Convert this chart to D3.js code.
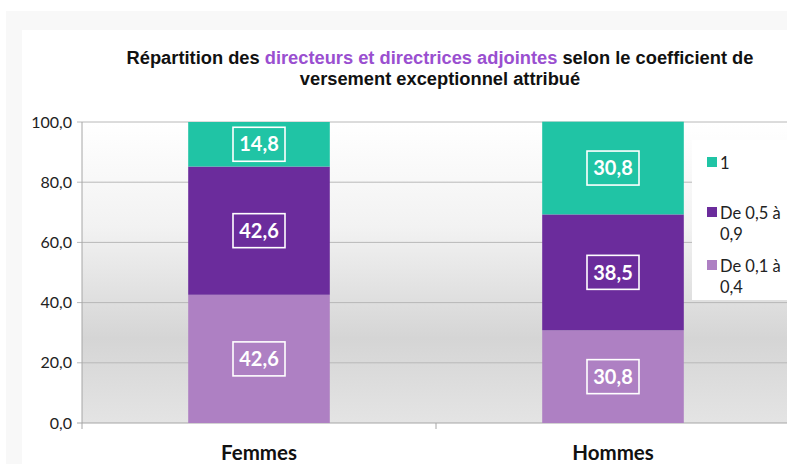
<!DOCTYPE html>
<html>
<head>
<meta charset="utf-8">
<script src="https://cdn.jsdelivr.net/npm/d3@7"></script>
<style>
  body { margin: 0; background: #fff; }
  svg { display: block; }
</style>
</head>
<body>
<div id="chart"></div>
<script>
// data
var categories = ["Femmes", "Hommes"];
var seriesNames = ["De 0,1 à 0,4", "De 0,5 à 0,9", "1"];
var low = [42.6, 30.8];
var mid = [42.6, 38.5];
var high = [14.8, 30.8];
var yTicks = [0, 20, 40, 60, 80, 100];
var legendLabels = [["1"], ["De 0,5 à", "0,9"], ["De 0,1 à", "0,4"]];

var colors = ["#ae80c3", "#6b2c9c", "#20c4a5"];
var fmt = function (v) { return d3.format(".1f")(v).replace(".", ","); };

var W = 787, H = 464;
var margin = { top: 122, right: -3, bottom: 41, left: 82 };
var width = W - margin.left - margin.right;
var height = H - margin.top - margin.bottom;

var svg = d3.select("#chart").append("svg")
    .attr("width", W)
    .attr("height", H);

// faint outer frame
svg.append("rect").attr("x", 6).attr("y", 11).attr("width", W - 6).attr("height", H - 11).attr("fill", "#f8f8f8");
svg.append("rect").attr("x", 22).attr("y", 30).attr("width", W - 22).attr("height", H - 30).attr("fill", "#fff");

var defs = svg.append("defs");
var grad = defs.append("linearGradient").attr("id", "bg")
    .attr("x1", 0).attr("y1", 0).attr("x2", 0).attr("y2", 1);
grad.append("stop").attr("offset", "0%").attr("stop-color", "#ffffff");
grad.append("stop").attr("offset", "35%").attr("stop-color", "#f2f2f2");
grad.append("stop").attr("offset", "72%").attr("stop-color", "#d5d5d5");
grad.append("stop").attr("offset", "100%").attr("stop-color", "#e4e4e4");

// title
var title = svg.append("text")
    .attr("x", 440)
    .attr("text-anchor", "middle")
    .style("font-family", "'Liberation Sans', Arial, sans-serif")
    .style("font-weight", "bold")
    .style("font-size", "18.3px")
    .attr("fill", "#111");
var t1 = title.append("tspan").attr("x", 440).attr("y", 64);
t1.append("tspan").text("Répartition des ");
t1.append("tspan").attr("fill", "#9a4fd0").text("directeurs et directrices adjointes");
t1.append("tspan").text(" selon le coefficient de");
title.append("tspan").attr("x", 440).attr("y", 85).text("versement exceptionnel attribué");

var g = svg.append("g")
    .attr("transform", "translate(" + margin.left + "," + margin.top + ")");

var x = d3.scaleBand()
    .domain(categories)
    .range([0, width])
    .padding(0);

var y = d3.scaleLinear()
    .domain([0, 100])
    .range([height, 0]);

g.append("rect")
    .attr("width", width)
    .attr("height", height)
    .attr("fill", "url(#bg)");

// grid
g.selectAll(".grid")
    .data(yTicks)
    .enter().append("line")
    .attr("x1", -5)
    .attr("x2", width)
    .attr("y1", function (d) { return y(d); })
    .attr("y2", function (d) { return y(d); })
    .attr("stroke", function (d) { return d === 0 ? "#a6a6a6" : "#b8b8b8"; })
    .attr("stroke-width", 1);

// y axis
g.append("line")
    .attr("x1", 0).attr("x2", 0)
    .attr("y1", 0).attr("y2", height)
    .attr("stroke", "#a6a6a6");

g.selectAll(".ylab")
    .data(yTicks)
    .enter().append("text")
    .attr("x", -10)
    .attr("y", function (d) { return y(d); })
    .attr("dy", "0.35em")
    .attr("text-anchor", "end")
    .style("font-family", "Lato, 'Open Sans', sans-serif")
    .style("font-size", "16px")
    .attr("fill", "#222")
    .text(fmt);

// category separator ticks
g.selectAll(".xtick")
    .data([0, width / 2, width])
    .enter().append("line")
    .attr("x1", function (d) { return d; })
    .attr("x2", function (d) { return d; })
    .attr("y1", height)
    .attr("y2", height + 6)
    .attr("stroke", "#a6a6a6");

g.selectAll(".xlab")
    .data(categories)
    .enter().append("text")
    .attr("x", function (d) { return x(d) + x.bandwidth() / 2; })
    .attr("y", height + 37)
    .attr("text-anchor", "middle")
    .style("font-family", "Lato, 'Open Sans', sans-serif")
    .style("font-weight", "bold")
    .style("font-size", "20.5px")
    .attr("fill", "#111")
    .text(function (d) { return d; });

// stacked bars
var rows = categories.map(function (c, i) {
    return { cat: c, s0: low[i], s1: mid[i], s2: high[i] };
});
var stack = d3.stack().keys(["s0", "s1", "s2"]);
var layers = stack(rows);
var barW = x.bandwidth() * 0.4;

var layer = g.selectAll(".layer")
    .data(layers)
    .enter().append("g")
    .attr("fill", function (d, i) { return colors[i]; });

layer.selectAll("rect")
    .data(function (d) { return d; })
    .enter().append("rect")
    .attr("x", function (d) { return x(d.data.cat) + (x.bandwidth() - barW) / 2; })
    .attr("y", function (d) { return y(d[1]); })
    .attr("height", function (d) { return y(d[0]) - y(d[1]); })
    .attr("width", barW);

// value labels
var lab = layer.selectAll(".lab")
    .data(function (d) { return d; })
    .enter().append("g")
    .attr("transform", function (d) {
        return "translate(" + (x(d.data.cat) + x.bandwidth() / 2) + "," + y((d[0] + d[1]) / 2) + ")";
    });

lab.append("rect")
    .attr("x", -26).attr("y", -17)
    .attr("width", 52).attr("height", 34)
    .attr("fill", "none")
    .attr("stroke", "#fff")
    .attr("stroke-width", 1.6);

lab.append("text")
    .attr("text-anchor", "middle")
    .attr("dy", "0.36em")
    .style("font-family", "Lato, 'Open Sans', sans-serif")
    .style("font-weight", "bold")
    .style("font-size", "20px")
    .attr("fill", "#fff")
    .text(function (d) { return fmt(d[1] - d[0]); });

// legend
var legend = svg.append("g");
legend.append("rect")
    .attr("x", 692).attr("y", 140)
    .attr("width", 100).attr("height", 160)
    .attr("fill", "#fff");

var legendColors = [colors[2], colors[1], colors[0]];
var legendY = [163, 213, 266];
var li = legend.selectAll(".li")
    .data(legendLabels)
    .enter().append("g")
    .attr("transform", function (d, i) { return "translate(707," + legendY[i] + ")"; });

li.append("rect")
    .attr("x", 0).attr("y", -6)
    .attr("width", 10).attr("height", 10)
    .attr("fill", function (d, i) { return legendColors[i]; });

li.append("text")
    .style("font-family", "Lato, 'Open Sans', sans-serif")
    .style("font-size", "16.5px")
    .attr("fill", "#222")
    .each(function (d) {
        var t = d3.select(this);
        d.forEach(function (line, k) {
            t.append("tspan")
                .attr("x", 13)
                .attr("y", k * 21)
                .attr("dy", "0.35em")
                .text(line);
        });
    });
</script>
</body>
</html>
